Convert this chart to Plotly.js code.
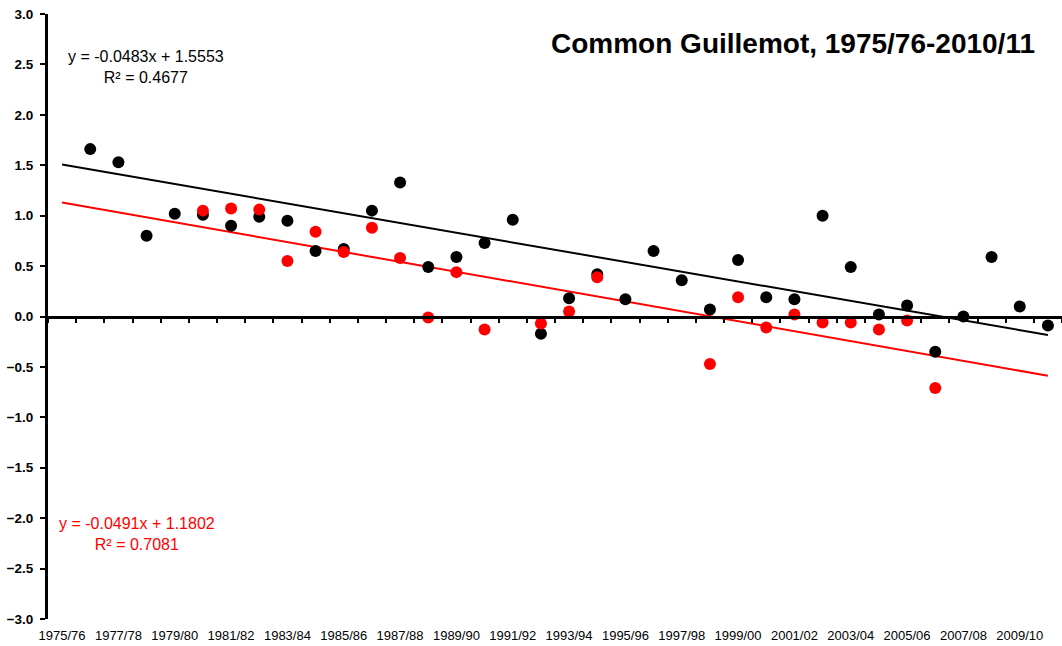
<!DOCTYPE html>
<html>
<head>
<meta charset="utf-8">
<script src="https://cdn.plot.ly/plotly-3.0.1.min.js"></script>
<style>html,body{margin:0;padding:0;background:#fff;}#chart{width:1062px;height:646px;}</style>
</head>
<body>
<div id="chart"></div>
<script>
var seasons = ["1975/76","1976/77","1977/78","1978/79","1979/80","1980/81","1981/82","1982/83","1983/84","1984/85",
  "1985/86","1986/87","1987/88","1988/89","1989/90","1990/91","1991/92","1992/93","1993/94","1994/95",
  "1995/96","1996/97","1997/98","1998/99","1999/00","2000/01","2001/02","2002/03","2003/04","2004/05",
  "2005/06","2006/07","2007/08","2008/09","2009/10","2010/11"];
var tickLabels = ["1975/76","1977/78","1979/80","1981/82","1983/84","1985/86","1987/88","1989/90","1991/92",
  "1993/94","1995/96","1997/98","1999/00","2001/02","2003/04","2005/06","2007/08","2009/10"];
var blackValues = [null,1.66,1.53,0.80,1.02,1.01,0.90,0.99,0.95,0.65,0.67,1.05,1.33,0.49,0.59,0.73,0.96,-0.17,
  0.18,0.42,0.17,0.65,0.36,0.07,0.56,0.19,0.17,1.00,0.49,0.02,0.11,-0.35,0.00,0.59,0.10,-0.09];
var redValues = [null,null,null,null,null,1.05,1.07,1.06,0.55,0.84,0.64,0.88,0.58,-0.01,0.44,-0.13,null,-0.07,
  0.05,0.39,null,null,null,-0.47,0.19,-0.11,0.02,-0.06,-0.06,-0.13,-0.04,-0.71,null,null,null,null];
var blackTrend = {slope: -0.0483, intercept: 1.5553, r2: 0.4677};
var redTrend = {slope: -0.0491, intercept: 1.1802, r2: 0.7081};

function trendTrace(t, color) {
  var n = seasons.length;
  return {
    x: [seasons[0], seasons[n - 1]],
    y: [t.slope * 1 + t.intercept, t.slope * n + t.intercept],
    mode: 'lines', type: 'scatter', line: {color: color, width: 2},
    hoverinfo: 'skip', showlegend: false
  };
}
function eqText(t) {
  return 'y = ' + t.slope.toFixed(4) + 'x + ' + t.intercept.toFixed(4) + '<br>R² = ' + t.r2.toFixed(4);
}

var traces = [
  {x: seasons, y: blackValues, xaxis: 'x2', mode: 'markers', type: 'scatter',
   marker: {opacity: 0}, hoverinfo: 'skip', showlegend: false},
  trendTrace(blackTrend, '#000000'),
  trendTrace(redTrend, '#ff0000'),
  {x: seasons, y: blackValues, mode: 'markers', type: 'scatter', name: 'all',
   marker: {color: '#000000', size: 12}, showlegend: false},
  {x: seasons, y: redValues, mode: 'markers', type: 'scatter', name: 'subset',
   marker: {color: '#ff0000', size: 12}, showlegend: false}
];

var font = 'Liberation Sans, Arial, sans-serif';
var layout = {
  width: 1062, height: 646,
  margin: {l: 48, r: 0, t: 14, b: 27},
  paper_bgcolor: '#ffffff', plot_bgcolor: '#ffffff',
  showlegend: false,
  font: {family: font, color: '#000000'},
  xaxis: {
    type: 'category', categoryorder: 'array', categoryarray: seasons,
    range: [-0.5, seasons.length - 0.5],
    tickvals: tickLabels, ticktext: tickLabels,
    ticks: 'outside', ticklen: 4, tickcolor: 'rgba(0,0,0,0)',
    showline: false, showgrid: false, zeroline: false,
    tickfont: {family: font, size: 13, color: '#000000'}, tickangle: 0
  },
  xaxis2: {
    type: 'category', categoryorder: 'array', categoryarray: seasons,
    range: [-0.5, seasons.length - 0.5],
    overlaying: 'x', anchor: 'free', position: 0.5, side: 'bottom',
    showline: true, linewidth: 3, linecolor: '#000000',
    ticks: 'outside', tickson: 'boundaries', ticklen: 4, tickwidth: 2, tickcolor: '#000000',
    showticklabels: false, showgrid: false, zeroline: false
  },
  yaxis: {
    range: [-3, 3], dtick: 0.5, tick0: 0, tickformat: '.1f',
    tickprefix: '<b>', ticksuffix: '</b>',
    showline: true, linewidth: 3, linecolor: '#000000',
    ticks: 'outside', ticklen: 5, tickwidth: 2, tickcolor: '#000000',
    ticklabelstandoff: 4,
    showgrid: false, zeroline: false,
    tickfont: {family: font, size: 13.5, color: '#000000', weight: 700}
  },
  annotations: [
    {text: 'Common Guillemot, 1975/76-2010/11', xref: 'paper', yref: 'paper',
     x: 0.9753, y: 0.952, xanchor: 'right', yanchor: 'middle', showarrow: false,
     font: {family: font, size: 28, color: '#000000', weight: 700}},
    {text: eqText(blackTrend), xref: 'paper', yref: 'paper', x: 0.0971, y: 0.9132,
     xanchor: 'center', yanchor: 'middle', align: 'center', showarrow: false,
     font: {family: font, size: 16, color: '#000000'}},
    {text: eqText(redTrend), xref: 'paper', yref: 'paper', x: 0.0878, y: 0.1405,
     xanchor: 'center', yanchor: 'middle', align: 'center', showarrow: false,
     font: {family: font, size: 16, color: '#ff0000'}}
  ]
};
Plotly.newPlot('chart', traces, layout, {displayModeBar: false, staticPlot: true});
</script>
</body>
</html>
